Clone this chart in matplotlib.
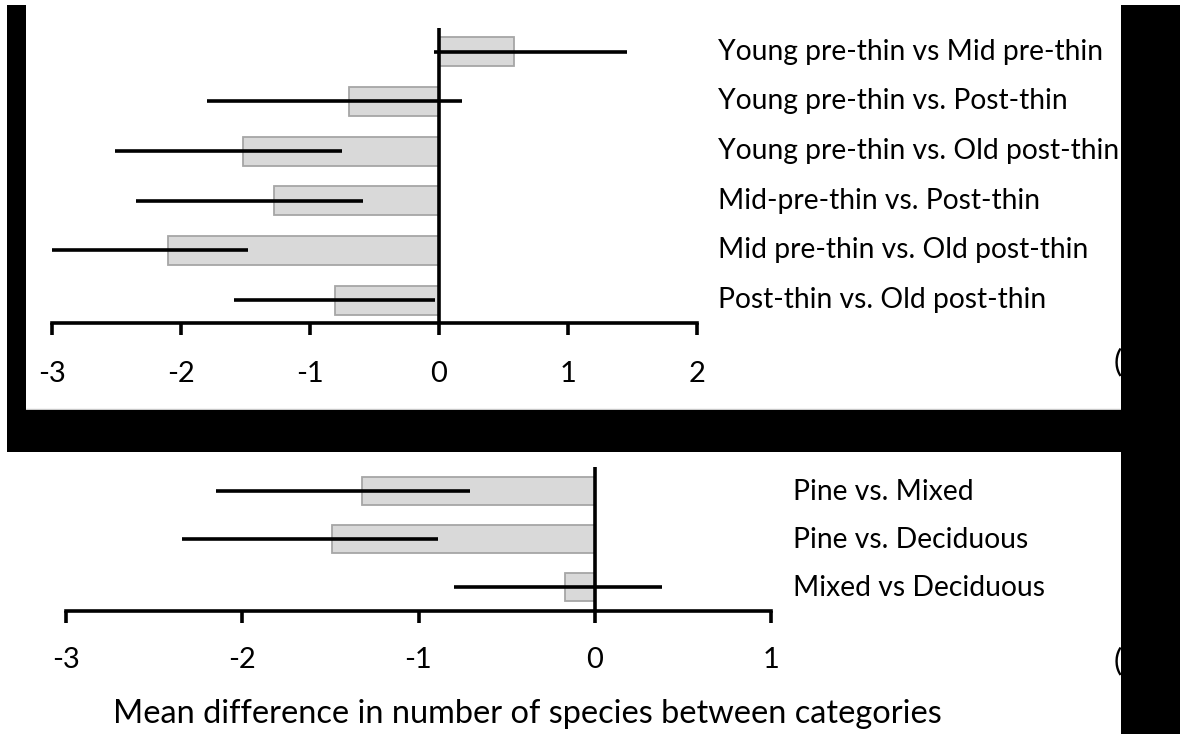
import matplotlib
matplotlib.use("Agg")
import matplotlib.pyplot as plt
from matplotlib.patches import Rectangle
from matplotlib.lines import Line2D
from matplotlib.transforms import blended_transform_factory, offset_copy

# ---------------- data ----------------
top_labels = ["Young pre-thin vs Mid pre-thin",
              "Young pre-thin vs. Post-thin",
              "Young pre-thin vs. Old post-thin",
              "Mid-pre-thin vs. Post-thin",
              "Mid pre-thin vs. Old post-thin",
              "Post-thin vs. Old post-thin"]
top_mean = [0.58, -0.70, -1.52, -1.28, -2.10, -0.81]
top_lo = [-0.04, -1.80, -2.51, -2.35, -3.00, -1.59]
top_hi = [1.46, 0.18, -0.75, -0.59, -1.48, -0.03]
top_ticks = [-3, -2, -1, 0, 1, 2]

bot_labels = ["Pine vs. Mixed", "Pine vs. Deciduous", "Mixed vs Deciduous"]
bot_mean = [-1.32, -1.49, -0.17]
bot_lo = [-2.15, -2.34, -0.80]
bot_hi = [-0.71, -0.89, 0.38]
bot_ticks = [-3, -2, -1, 0, 1]

xlabel = "Mean difference in number of species between categories"

# ---------------- layout ----------------
W, H = 1180, 734
PX2PT = 72 / 100.0
FONT = "Lato"
plt.rcParams['font.family'] = [FONT, 'DejaVu Sans']

fig = plt.figure(figsize=(W / 100, H / 100), dpi=100)
fig.patch.set_facecolor("white")
renderer = fig.canvas.get_renderer()


def fit_size(s, target_px, base=20.0):
    t = fig.text(0, 0, s, fontsize=base)
    w = t.get_window_extent(renderer).width
    t.remove()
    return base * target_px / w


def px_axes(l, r, t, b):
    return fig.add_axes([l / W, 1 - b / H, (r - l) / W, (b - t) / H])


cat_size = fit_size(top_labels[0], 386)
tick_size = 21.0
xl_size = fit_size(xlabel, 830)

BAR_FC = "#d9d9d9"
BAR_EC = "#a6a6a6"
LW = 2.6
TICK_LEN = 8.5


def panel(ax, labels, mean, lo, hi, ticks, label_x_px, left_px, right_px,
          spine_px, baseline_px, ylim, label_off):
    n = len(labels)
    ypos = list(range(n))
    ax.barh(ypos, mean, height=0.59, color=BAR_FC, edgecolor=BAR_EC,
            linewidth=1.3, zorder=2)
    ax.hlines(ypos, lo, hi, colors="black", linewidth=LW, zorder=4)
    ax.axvline(0, color="black", linewidth=LW, zorder=5)
    ax.set_xlim(ticks[0], ticks[-1])
    ax.set_ylim(*ylim)
    ax.set_xticks(ticks)
    ax.set_xticklabels([str(t) for t in ticks])
    ax.set_yticks([])
    for s in ("left", "top", "right"):
        ax.spines[s].set_visible(False)
    ax.spines["bottom"].set_linewidth(LW)
    pad = (baseline_px - spine_px) * PX2PT - TICK_LEN
    ax.tick_params(axis="x", direction="out", length=TICK_LEN, width=LW,
                   labelsize=tick_size, pad=pad, colors="black")
    for tk in ax.xaxis.get_major_ticks():
        tk.label1.set_verticalalignment("baseline")
    ax.set_facecolor("none")
    frac = (label_x_px - left_px) / (right_px - left_px)
    tr = blended_transform_factory(ax.transAxes, ax.transData)
    tr = offset_copy(tr, fig=fig, x=0, y=-label_off, units="dots")
    for i, lab in enumerate(labels):
        ax.text(frac, i, lab, transform=tr, fontsize=cat_size,
                ha="left", va="baseline", color="black", clip_on=False)


ax1 = px_axes(52, 697, 27.5, 323.5)
panel(ax1, top_labels, top_mean, top_lo, top_hi, top_ticks, 718, 52, 697,
      323.5, 382, (5.47, -0.49), 8.0)

ax2 = px_axes(66, 771, 467, 611)
panel(ax2, bot_labels, bot_mean, bot_lo, bot_hi, bot_ticks, 793, 66, 771,
      611, 668, (2.5, -0.5), 8.5)

fig.text(527.5 / W, 1 - 723 / H, xlabel, fontsize=xl_size, ha="center",
         va="baseline", color="black")

# partially hidden panel letters at the right edge
fig.text(1114 / W, 1 - 362 / H, "(a)", fontsize=cat_size * 1.1, ha="left",
         va="center", color="black")
fig.text(1114 / W, 1 - 661 / H, "(b)", fontsize=cat_size * 1.1, ha="left",
         va="center", color="black")


# black framing bands of the original image
def band(x0, y0, x1, y1):
    fig.patches.append(Rectangle((x0 / W, 1 - y1 / H), (x1 - x0) / W,
                                 (y1 - y0) / H, transform=fig.transFigure,
                                 facecolor="black", edgecolor="none",
                                 zorder=10))


fig.lines.append(Line2D([26 / W, 1121 / W], [1 - 408.5 / H, 1 - 408.5 / H],
                        transform=fig.transFigure, color="#c8c8c8",
                        linewidth=1.0, zorder=9))
band(7, 5, 26, 452)
band(7, 410, 1180, 452)
band(1121, 5, 1180, 734)

fig.savefig("out.png", dpi=100)
